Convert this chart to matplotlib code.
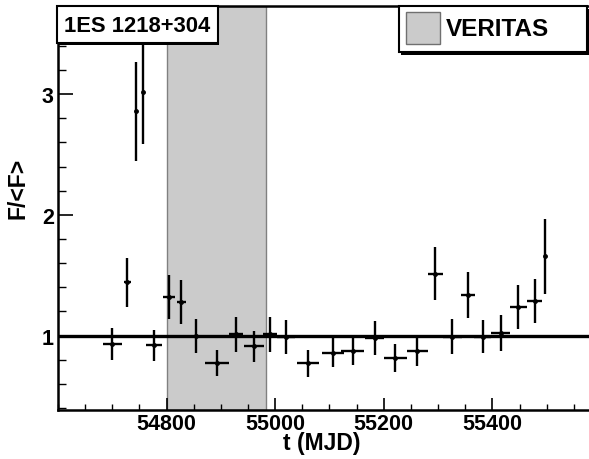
import matplotlib
matplotlib.use("Agg")
import matplotlib.pyplot as plt
from matplotlib.patches import Rectangle
from matplotlib.ticker import MultipleLocator, FixedLocator

plt.rcParams['font.family'] = ['Liberation Sans', 'DejaVu Sans']
plt.rcParams['font.weight'] = 'bold'

# data
t_mjd = [54700, 54728, 54743, 54756, 54777, 54804, 54827, 54854, 54893, 54928,
         54961, 54991, 55020, 55060, 55106, 55143, 55183, 55221, 55262, 55295,
         55326, 55355, 55382, 55415, 55448, 55478, 55497]
t_err = [17, 7, 2, 2, 15, 11, 8, 3, 22, 13,
         19, 13, 16, 20, 20, 21, 18, 21, 20, 14,
         17.5, 12.5, 16, 17, 16, 13.5, 2]
flux_rel = [0.93, 1.44, 2.86, 3.02, 0.92, 1.32, 1.28, 1.00, 0.77, 1.01,
            0.91, 1.01, 0.987, 0.77, 0.86, 0.876, 0.978, 0.815, 0.87, 1.514,
            0.992, 1.337, 0.992, 1.02, 1.238, 1.285, 1.658]
flux_err = [0.13, 0.20, 0.41, 0.43, 0.13, 0.185, 0.18, 0.14, 0.108, 0.145,
            0.13, 0.145, 0.14, 0.11, 0.124, 0.12, 0.14, 0.117, 0.124, 0.217,
            0.144, 0.19, 0.14, 0.148, 0.18, 0.184, 0.31]
veritas_range = [54800, 54984]
source_name = "1ES 1218+304"
legend_label = "VERITAS"

W, H = 589, 460
fig = plt.figure(figsize=(W / 100, H / 100), dpi=100)
ax = fig.add_axes([58 / W, (H - 411) / H, (W - 58) / W, (411 - 7) / H])

ax.set_xlim(54600, 55578)
ax.set_ylim(0.384, 3.73)

ax.axvspan(veritas_range[0], veritas_range[1], facecolor='#cbcbcb',
           edgecolor='#808080', linewidth=1.0, zorder=1)
ax.axhline(1.0, color='black', linewidth=2.4, zorder=2)
ax.errorbar(t_mjd, flux_rel, xerr=t_err, yerr=flux_err, fmt='o', color='black',
            markersize=2.5, elinewidth=1.7, capsize=0, zorder=3)

ax.spines['right'].set_visible(False)
for s in ['left', 'bottom', 'top']:
    ax.spines[s].set_linewidth(1.8)

ax.xaxis.set_major_locator(FixedLocator([54800, 55000, 55200, 55400]))
ax.xaxis.set_minor_locator(MultipleLocator(50))
ax.yaxis.set_major_locator(FixedLocator([1, 2, 3]))
ax.yaxis.set_minor_locator(MultipleLocator(0.2))
ax.tick_params(axis='x', which='major', direction='in', length=9, width=1.2,
               labelsize=15.5, pad=2.5, top=False)
ax.tick_params(axis='x', which='minor', direction='in', length=4.5, width=1.0, top=False)
ax.tick_params(axis='y', which='major', direction='in', length=11, width=1.2,
               labelsize=15.5, pad=3, right=False)
ax.tick_params(axis='y', which='minor', direction='in', length=6, width=1.0, right=False)
for lab in ax.get_xticklabels() + ax.get_yticklabels():
    lab.set_fontweight('bold')

fig.text(18 / W, 1 - 188 / H, "F/<F>", rotation=90, ha='center', va='center',
         fontsize=16.5, fontweight='bold')
fig.text(322 / W, 1 - 444 / H, "t (MJD)", ha='center', va='center',
         fontsize=16.5, fontweight='bold')

# title box
tf = fig.transFigure
def px_rect(x0, y0, x1, y1, **kw):
    return Rectangle((x0 / W, 1 - y1 / H), (x1 - x0) / W, (y1 - y0) / H,
                     transform=tf, **kw)

fig.patches.append(px_rect(58, 9, 219, 46, facecolor='black', edgecolor='none', zorder=5))
fig.patches.append(px_rect(57, 7, 218, 44, facecolor='white', edgecolor='black',
                           linewidth=1.5, zorder=6))
fig.text(137.5 / W, 1 - 26 / H, source_name, ha='center', va='center',
         fontsize=15.8, fontweight='bold', zorder=7)

# legend box
fig.patches.append(px_rect(401, 10, 590, 56, facecolor='black', edgecolor='none', zorder=5))
fig.patches.append(px_rect(399, 7, 587, 53, facecolor='white', edgecolor='black',
                           linewidth=1.5, zorder=6))
fig.patches.append(px_rect(406, 13, 440, 45, facecolor='#cbcbcb', edgecolor='#707070',
                           linewidth=1.0, zorder=7))
fig.text(446 / W, 1 - 30 / H, legend_label, ha='left', va='center',
         fontsize=17.5, fontweight='bold', zorder=7)

fig.savefig("out.png", dpi=100)
